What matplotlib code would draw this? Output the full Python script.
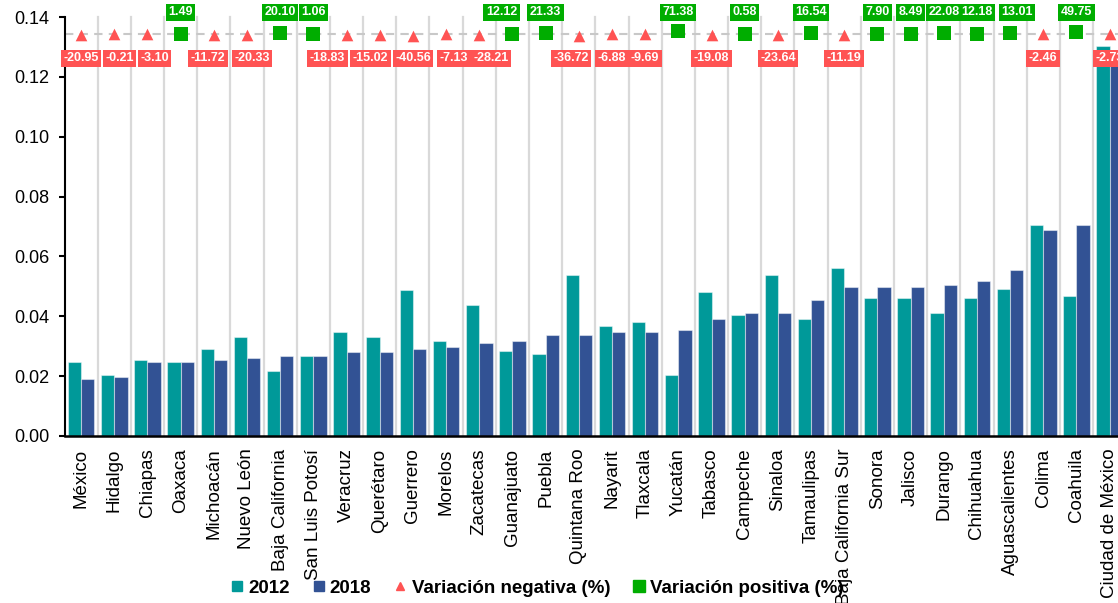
import matplotlib
matplotlib.use("Agg")
from matplotlib import pyplot as plt
from matplotlib.lines import Line2D
import numpy as np

plt.rcParams['font.family'] = ['Liberation Sans', 'DejaVu Sans']

estados = ['México', 'Hidalgo', 'Chiapas', 'Oaxaca', 'Michoacán', 'Nuevo León',
           'Baja California', 'San Luis Potosí', 'Veracruz', 'Querétaro', 'Guerrero',
           'Morelos', 'Zacatecas', 'Guanajuato', 'Puebla', 'Quintana Roo', 'Nayarit',
           'Tlaxcala', 'Yucatán', 'Tabasco', 'Campeche', 'Sinaloa', 'Tamaulipas',
           'Baja California Sur', 'Sonora', 'Jalisco', 'Durango', 'Chihuahua',
           'Aguascalientes', 'Colima', 'Coahuila', 'Ciudad de México']

v2012 = [0.0246, 0.0204, 0.0254, 0.0246, 0.0290, 0.0332, 0.0218, 0.0268, 0.0346, 0.0332,
         0.0489, 0.0318, 0.0439, 0.0283, 0.0275, 0.0539, 0.0368, 0.0382, 0.0204, 0.0482,
         0.0403, 0.0539, 0.0390, 0.0560, 0.0460, 0.0460, 0.0410, 0.0460, 0.0490, 0.0704,
         0.0468, 0.1303]
v2018 = [0.0190, 0.0197, 0.0246, 0.0246, 0.0254, 0.0262, 0.0268, 0.0268, 0.0282, 0.0282,
         0.0290, 0.0296, 0.0311, 0.0318, 0.0338, 0.0338, 0.0346, 0.0346, 0.0353, 0.0390,
         0.0410, 0.0410, 0.0454, 0.0497, 0.0497, 0.0497, 0.0503, 0.0518, 0.0554, 0.0689,
         0.0704, 0.1268]
variacion = [-20.95, -0.21, -3.10, 1.49, -11.72, -20.33, 20.10, 1.06, -18.83, -15.02,
             -40.56, -7.13, -28.21, 12.12, 21.33, -36.72, -6.88, -9.69, 71.38, -19.08,
             0.58, -23.64, 16.54, -11.19, 7.90, 8.49, 22.08, 12.18, 13.01, -2.46,
             49.75, -2.73]

# horizontal nudges (pixels) so neighbouring labels don't collide
nudge = {1: 5, 2: 7, 4: -6, 5: 5, 8: -19, 9: -9, 11: 8, 12: 12, 13: -11,
         15: -8, 28: 7}

c2012 = '#009999'
c2018 = '#325294'
cneg = '#ff5353'
cpos = '#00ad00'

fig = plt.figure(figsize=(11.18, 6.03), dpi=100)
# axes runs slightly past the right edge of the canvas
ax = fig.add_axes([64.5 / 1118, 167 / 603, 32 * 33.18 / 1118, 419 / 603])

x = np.arange(len(estados))
w = 0.4
ax.bar(x - w / 2, v2012, w, color=c2012, edgecolor=(1, 1, 1, 0.45), linewidth=0.8, zorder=3)
ax.bar(x + w / 2, v2018, w, color=c2018, edgecolor=(1, 1, 1, 0.45), linewidth=0.8, zorder=3)

# category separators
for b in np.arange(0.5, len(estados) - 0.5, 1):
    ax.plot([b, b], [0, 0.14], color='#d9d9d9', lw=1.6, zorder=1, clip_on=False)

base = 0.1343
ax.axhline(base, color='#c8c8c8', lw=1.5, ls=(0, (4, 3)), zorder=2)

var = np.array(variacion)
ypos = base + var * 1.5e-5
neg = var < 0
ax.scatter(x[neg], ypos[neg], marker='^', s=70, color=cneg, zorder=5, clip_on=False, linewidths=0)
ax.scatter(x[~neg], ypos[~neg], marker='s', s=90, color=cpos, zorder=5, clip_on=False, linewidths=0)

for i, v in enumerate(variacion):
    dx = nudge.get(i, 0)
    if v < 0:
        dy, fc = -24, cneg
    else:
        dy, fc = 22, cpos
    ax.annotate('%.2f' % v, xy=(i, base), xytext=(dx, dy), textcoords='offset pixels',
                ha='center', va='center', color='white', fontsize=9, fontweight='bold',
                bbox=dict(boxstyle='square,pad=0.2', fc=fc, ec='none'),
                zorder=6, annotation_clip=False)

ax.set_xlim(-0.5, len(estados) - 0.5)
ax.set_ylim(0, 0.14)
ax.set_yticks(np.arange(0, 0.141, 0.02))
ax.set_yticklabels(['%.2f' % t for t in np.arange(0, 0.141, 0.02)])
ax.set_xticks(x)
ax.set_xticklabels(estados, rotation=90, va='top', ha='center')

for s in ['top', 'right']:
    ax.spines[s].set_visible(False)
ax.spines['left'].set_linewidth(1.5)
ax.spines['bottom'].set_linewidth(1.8)
ax.spines['bottom'].set_zorder(4)
ax.tick_params(axis='y', length=4, width=1.5, pad=7, labelsize=13)
ax.tick_params(axis='x', length=0, pad=9, labelsize=13.5)

handles = [Line2D([], [], ls='none', marker='s', ms=7, color=c2012),
           Line2D([], [], ls='none', marker='s', ms=7, color=c2018),
           Line2D([], [], ls='none', marker='^', ms=6, color=cneg),
           Line2D([], [], ls='none', marker='s', ms=8, color=cpos)]
fig.legend(handles, ['2012', '2018', 'Variación negativa (%)', 'Variación positiva (%)'],
           loc='center', bbox_to_anchor=(538 / 1118, 1 - 588 / 603), ncol=4, frameon=False,
           prop={'size': 13.5, 'weight': 'bold'}, handlelength=0.5, handletextpad=0.35,
           columnspacing=1.3, borderaxespad=0)

plt.savefig('out.png', dpi=100)
